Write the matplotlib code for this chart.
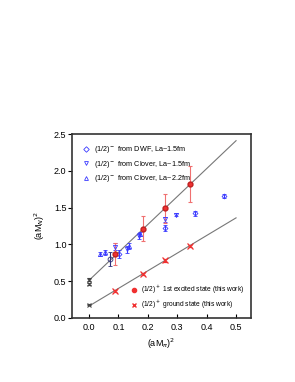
import matplotlib.pyplot as plt
import numpy as np

# (1/2)+ states, this work
mpi2 = [0.089, 0.183, 0.258, 0.345]
exc = [0.87, 1.21, 1.49, 1.82]
exc_err = [0.15, 0.17, 0.20, 0.24]
gnd = [0.37, 0.60, 0.78, 0.98]
gnd_err = [0.015, 0.015, 0.015, 0.015]

# chiral extrapolations at mpi^2 = 0
ext_x = [0.0, 0.0, 0.0]
ext_y = [0.52, 0.46, 0.18]
ext_err = [0.02, 0.02, 0.01]

# fit lines (intercept, value at 0.5)
line_x = [0.0, 0.5]
exc_line = [0.51, 2.41]
gnd_line = [0.16, 1.36]

# (1/2)- from other works
dwf_x = [0.103, 0.26, 0.36, 0.46]
dwf_y = [0.87, 1.22, 1.42, 1.66]
dwf_err = [0.05, 0.04, 0.03, 0.03]
cl15_x = [0.088, 0.128, 0.169, 0.257, 0.297]
cl15_y = [0.97, 0.93, 1.11, 1.34, 1.40]
cl15_err = [0.05, 0.05, 0.04, 0.03, 0.02]
cl22_x = [0.036, 0.055, 0.137, 0.172]
cl22_y = [0.87, 0.89, 0.98, 1.14]
cl22_err = [0.03, 0.03, 0.04, 0.03]
odd_x = [0.072]
odd_y = [0.80]
odd_err = [0.10]

labels_neg = [r'(1/2)$^-$ from DWF, La~1.5fm',
              r'(1/2)$^-$ from Clover, La~1.5fm',
              r'(1/2)$^-$ from Clover, La~2.2fm']
labels_pos = [r'(1/2)$^+$ 1st excited state (this work)',
              r'(1/2)$^+$ ground state (this work)']

blue = '#3a3aff'
red = '#f03030'

plt.rcParams.update({'font.size': 6.5, 'font.family': 'Liberation Sans'})
fig = plt.figure(figsize=(2.95, 3.82), dpi=100)
ax = fig.add_axes([0.244, 0.168, 0.607, 0.481])

ax.plot(line_x, exc_line, color='#777777', lw=0.8, zorder=1)
ax.plot(line_x, gnd_line, color='#777777', lw=0.8, zorder=1)

kw = dict(ls='none', capsize=1.5, elinewidth=0.8, capthick=0.8)
ax.errorbar(dwf_x, dwf_y, yerr=dwf_err, fmt='D', ms=2.5, mfc='none', mec=blue, mew=0.6, color=blue, **kw)
ax.errorbar(cl15_x, cl15_y, yerr=cl15_err, fmt='v', ms=3, mfc='none', mec=blue, mew=0.6, color=blue, **kw)
ax.errorbar(cl22_x, cl22_y, yerr=cl22_err, fmt='^', ms=3, mfc='none', mec=blue, mew=0.6, color=blue, **kw)
ax.errorbar(odd_x, odd_y, yerr=odd_err, fmt='o', ms=3.5, mfc='none', mec='#30307a', mew=0.6,
            color='#30307a', **kw)

ax.errorbar(mpi2, exc, yerr=exc_err, fmt='o', ms=3.5, color=red, mec='#c02020', ecolor='#f07070', **kw)
ax.errorbar(mpi2, gnd, yerr=gnd_err, fmt='x', ms=4, color=red, mew=0.9, **kw)
ax.errorbar(ext_x, ext_y, yerr=ext_err, fmt='x', ms=3, color='#444444', mew=0.8, **kw)

neg_handles = [plt.Line2D([], [], ls='none', marker=m, ms=2.8, mfc='none', mec=blue, mew=0.6)
               for m in ['D', 'v', '^']]
leg1 = ax.legend(neg_handles, labels_neg, loc='upper left', frameon=False, fontsize=5.2,
                 handletextpad=0.5, labelspacing=0.5, borderaxespad=1.0, handlelength=1.2)
ax.add_artist(leg1)
pos_handles = [plt.Line2D([], [], ls='none', marker='o', ms=3, color=red),
               plt.Line2D([], [], ls='none', marker='x', ms=3.5, color=red)]
ax.legend(pos_handles, labels_pos, loc='lower right', frameon=False, fontsize=4.8,
          handletextpad=0.5, labelspacing=0.45, borderaxespad=0.6, handlelength=1.2)

ax.set_xlim(-0.058, 0.551)
ax.set_ylim(0, 2.5)
ax.set_xticks([0.0, 0.1, 0.2, 0.3, 0.4, 0.5])
ax.set_yticks([0.0, 0.5, 1.0, 1.5, 2.0, 2.5])
ax.tick_params(axis='x', direction='in', length=3, width=0.8, pad=4)
ax.tick_params(axis='y', direction='out', length=3, width=0.8, pad=1)
for s in ax.spines.values():
    s.set_linewidth(1.2)
    s.set_color('#333333')

ax.set_xlabel(r'(aM$_\pi$)$^2$', labelpad=3)
ax.set_ylabel(r'(aM$_N$)$^2$', labelpad=5)

fig.savefig('out.png', dpi=100)
